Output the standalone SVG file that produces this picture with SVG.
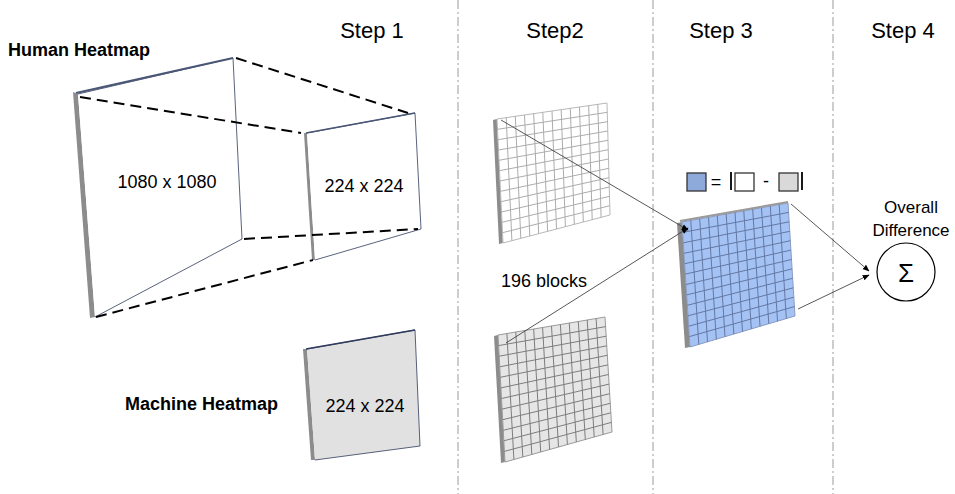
<svg xmlns="http://www.w3.org/2000/svg" width="955" height="494" viewBox="0 0 955 494">
<style>
text{font-family:"Liberation Sans",Arial,sans-serif;fill:#000}
.step{font-size:22px;text-anchor:middle}
.lbl{font-size:18px;font-weight:bold}
.dim{font-size:18px;text-anchor:middle}
.sep{stroke:#9a9a9a;stroke-width:1;stroke-dasharray:9,3,2,3;fill:none}
.bar{fill:#8c8c8c}
.dash{stroke:#000;stroke-width:2;stroke-dasharray:11,6;fill:none}
.thin{stroke:#2f3b5c;stroke-width:0.8;fill:none}
.g1{stroke:#acacac;stroke-width:1;fill:none}
.g2{stroke:#7d7d7d;stroke-width:1;fill:none}
.g3{stroke:#6478a3;stroke-width:1;fill:none}
.conn{stroke:#444;stroke-width:0.9;fill:none}
</style>
<defs>
<marker id="ah" viewBox="0 0 10 10" refX="9" refY="5" markerWidth="7" markerHeight="7" orient="auto" markerUnits="userSpaceOnUse">
<path d="M0,1 L10,5 L0,9 z" fill="#000"/>
</marker>
</defs>
<rect width="955" height="494" fill="#fff"/>

<g id="separators">
<line class="sep" x1="458" y1="0" x2="458" y2="494"/>
<line class="sep" x1="653" y1="0" x2="653" y2="494"/>
<line class="sep" x1="833" y1="0" x2="833" y2="494"/>
</g>

<g id="steps">
<text class="step" x="372" y="38">Step 1</text>
<text class="step" x="555" y="38">Step2</text>
<text class="step" x="721" y="38">Step 3</text>
<text class="step" x="903" y="38">Step 4</text>
</g>

<g id="human-label"><text class="lbl" x="8" y="56">Human Heatmap</text></g>
<g id="machine-label"><text class="lbl" x="125" y="410">Machine Heatmap</text></g>

<g id="human-1080">
<polygon class="bar" points="73,92 78,94 95,317 90,318"/>
<polygon points="78,94 233,58 242,239 95,317" fill="#fff"/>
<polyline class="thin" points="78,94 233,58 242,239 95,317"/>
<line x1="76" y1="93" x2="233" y2="58" stroke="#4a5675" stroke-width="1.8"/>
<text class="dim" x="167" y="188">1080 x 1080</text>
</g>

<g id="human-224">
<polygon class="bar" points="304,133 307,133 315,260 312,260"/>
<polygon points="307,133 415,113 421,229 315,260" fill="#fff"/>
<polyline class="thin" points="307,133 415,113 421,229 315,260"/>
<line x1="306" y1="133" x2="415" y2="113" stroke="#4a5675" stroke-width="1.6"/>
<text class="dim" x="364" y="192">224 x 224</text>
</g>

<g id="projection">
<line class="dash" x1="80" y1="97" x2="301" y2="133"/>
<line class="dash" x1="236" y1="58" x2="408" y2="113"/>
<line class="dash" x1="244" y1="239" x2="418" y2="229"/>
<line class="dash" x1="96" y1="317" x2="313" y2="260"/>
</g>

<g id="machine-224">
<polygon class="bar" points="303,349 307,349 315,460 311,460"/>
<polygon points="307,349 415,330 420,446 315,460" fill="#e1e1e1"/>
<polyline class="thin" points="307,349 415,330 420,446 315,460"/>
<line x1="306" y1="349" x2="415" y2="330" stroke="#2f3b5c" stroke-width="1.6"/>
<text class="dim" x="365" y="412">224 x 224</text>
</g>

<g id="grid-human">
<polygon class="bar" points="493,120 497,119 503,243 499,244" fill="#a0a0a0"/>
<polygon points="497,119 607,103 610,215 503,243" fill="#fff" stroke="#b8b8b8" stroke-width="1"/>
<path class="g1" d="M506.2,117.7L511.9,240.7M515.3,116.3L520.8,238.3M524.5,115L529.8,236M533.7,113.7L538.7,233.7M542.8,112.3L547.6,231.3M552,111L556.5,229M561.2,109.7L565.4,226.7M570.3,108.3L574.3,224.3M579.5,107L583.3,222M588.7,105.7L592.2,219.7M597.8,104.3L601.1,217.3
M497.5,129.3L607.3,112.3M498,139.7L607.5,121.7M498.5,150L607.8,131M499,160.3L608,140.3M499.5,170.7L608.3,149.7M500,181L608.5,159M500.5,191.3L608.8,168.3M501,201.7L609,177.7M501.5,212L609.3,187M502,222.3L609.5,196.3M502.5,232.7L609.8,205.7"/>
</g>

<g id="grid-machine">
<polygon class="bar" points="494,336 498,335 505,462 501,463" fill="#a0a0a0"/>
<polygon points="498,335 605,317 612,432 505,462" fill="#e6e6e6" stroke="#9a9a9a" stroke-width="1"/>
<path class="g2" d="M506.9,333.5L513.9,459.5M515.8,332L522.8,457M524.8,330.5L531.8,454.5M533.7,329L540.7,452M542.6,327.5L549.6,449.5M551.5,326L558.5,447M560.4,324.5L567.4,444.5M569.3,323L576.3,442M578.3,321.5L585.3,439.5M587.2,320L594.2,437M596.1,318.5L603.1,434.5
M498.6,345.6L605.6,326.6M499.2,356.2L606.2,336.2M499.8,366.8L606.8,345.8M500.3,377.3L607.3,355.3M500.9,387.9L607.9,364.9M501.5,398.5L608.5,374.5M502.1,409.1L609.1,384.1M502.7,419.7L609.7,393.7M503.3,430.3L610.3,403.3M503.8,440.8L610.8,412.8M504.4,451.4L611.4,422.4"/>
</g>

<g id="blocks-label"><text x="544" y="287" font-size="18" text-anchor="middle">196 blocks</text></g>

<g id="grid-diff">
<polygon class="bar" points="677,223 682,222 690,347 685,348"/>
<polygon points="682,222 788,203 795,316 690,347" fill="#a4c2f4" stroke="#8a9cc0" stroke-width="1"/>
<line x1="680" y1="221" x2="788" y2="202" stroke="#9a9a9a" stroke-width="2"/>
<path class="g3" d="M690.8,220.4L698.8,344.4M699.7,218.8L707.5,341.8M708.5,217.3L716.3,339.3M717.3,215.7L725,336.7M726.2,214.1L733.8,334.1M735,212.5L742.5,331.5M743.8,210.9L751.3,328.9M752.7,209.3L760,326.3M761.5,207.8L768.8,323.8M770.3,206.2L777.5,321.2M779.2,204.6L786.3,318.6
M682.7,232.4L788.6,212.4M683.3,242.8L789.2,221.8M684,253.3L789.8,231.3M684.7,263.7L790.3,240.7M685.3,274.1L790.9,250.1M686,284.5L791.5,259.5M686.7,294.9L792.1,268.9M687.3,305.3L792.7,278.3M688,315.8L793.3,287.8M688.7,326.2L793.8,297.2M689.3,336.6L794.4,306.6"/>
</g>

<g id="legend">
<rect x="687" y="173" width="19" height="18" fill="#8eaadb" stroke="#333" stroke-width="1.3"/>
<text x="716" y="188" font-size="18" text-anchor="middle">=</text>
<line x1="731" y1="172" x2="731" y2="190" stroke="#000" stroke-width="1.8"/>
<rect x="735" y="173" width="19" height="18" fill="#fff" stroke="#333" stroke-width="1.3"/>
<text x="766" y="187" font-size="18" text-anchor="middle">-</text>
<rect x="779" y="173" width="19" height="18" fill="#d9d9d9" stroke="#333" stroke-width="1.3"/>
<line x1="802" y1="172" x2="802" y2="190" stroke="#000" stroke-width="1.8"/>
</g>

<g id="sum">
<text x="911" y="213" font-size="17" text-anchor="middle">Overall</text>
<text x="911" y="236" font-size="17" text-anchor="middle">Difference</text>
<circle cx="906" cy="272" r="29" fill="#fff" stroke="#000" stroke-width="1.2"/>
<text x="906" y="282" font-size="26" text-anchor="middle">Σ</text>
</g>

<g id="connectors">
<line class="conn" x1="501" y1="120" x2="688" y2="230" marker-end="url(#ah)"/>
<line class="conn" x1="506" y1="343" x2="688" y2="228" marker-end="url(#ah)"/>
<line class="conn" x1="791" y1="204" x2="869" y2="271" marker-end="url(#ah)"/>
<line class="conn" x1="798" y1="309" x2="869" y2="275" marker-end="url(#ah)"/>
</g>
</svg>
